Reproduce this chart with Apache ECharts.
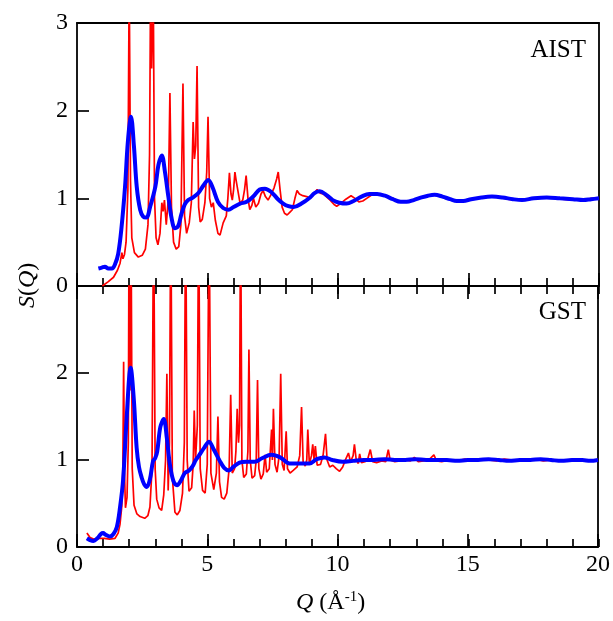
<!DOCTYPE html>
<html>
<head>
<meta charset="utf-8">
<script src="https://cdn.jsdelivr.net/npm/echarts@6/dist/echarts.min.js"></script>
<style>html,body{margin:0;padding:0;background:#fff;}#c{width:613px;height:621px;}</style>
</head>
<body>
<div id="c"></div>
<script>
// ---- data (Q, S(Q)) ----
const xTicks = [0, 5, 10, 15, 20];
const xMinorStep = 1;
const yTicks = [0, 1, 2, 3];
const panelLabels = ['AIST', 'GST'];

const aistCrystal = [[0.97,0.0],[1.2,0.05],[1.4,0.1],[1.55,0.18],[1.65,0.26],[1.72,0.38],[1.76,0.31],[1.82,0.36],[1.88,0.5],[1.95,1.1],[2.0,3.5],[2.05,1.2],[2.1,0.55],[2.2,0.38],[2.35,0.33],[2.5,0.35],[2.62,0.42],[2.72,0.7],[2.78,1.5],[2.82,3.5],[2.86,2.48],[2.92,3.5],[2.97,1.0],[3.03,0.55],[3.1,0.47],[3.18,0.6],[3.25,0.95],[3.3,0.85],[3.35,0.98],[3.42,0.7],[3.5,1.0],[3.56,2.2],[3.62,0.9],[3.7,0.5],[3.8,0.42],[3.9,0.45],[3.98,0.7],[4.06,2.31],[4.12,0.8],[4.2,0.6],[4.3,0.72],[4.38,0.95],[4.45,1.87],[4.5,1.45],[4.55,1.6],[4.6,2.51],[4.66,0.9],[4.72,0.73],[4.8,0.76],[4.9,0.95],[4.97,1.3],[5.02,1.93],[5.08,1.0],[5.15,0.9],[5.22,0.95],[5.3,0.75],[5.4,0.6],[5.48,0.58],[5.6,0.72],[5.72,0.8],[5.78,1.0],[5.84,1.29],[5.9,1.05],[5.95,0.98],[6.0,1.1],[6.05,1.3],[6.1,1.2],[6.15,1.22],[6.25,0.94],[6.35,0.98],[6.42,1.1],[6.48,1.26],[6.55,1.0],[6.62,0.87],[6.7,0.92],[6.76,1.0],[6.85,0.9],[6.95,0.94],[7.05,1.05],[7.13,1.09],[7.22,1.02],[7.32,0.98],[7.45,1.05],[7.55,1.12],[7.65,1.22],[7.71,1.3],[7.78,1.1],[7.86,0.9],[7.95,0.83],[8.05,0.81],[8.15,0.84],[8.25,0.87],[8.35,1.0],[8.43,1.09],[8.52,1.05],[8.65,1.03],[8.8,1.02],[8.93,1.0],[9.05,1.04],[9.2,1.1],[9.32,1.06],[9.43,1.05],[9.55,1.02],[9.7,0.98],[9.85,0.93],[9.95,0.91],[10.1,0.94],[10.3,0.99],[10.5,1.03],[10.65,1.0],[10.8,0.96],[10.95,0.97],[11.1,1.0],[11.3,1.04],[11.5,1.05],[11.7,1.04],[11.9,1.02],[12.1,1.0],[12.3,0.97],[12.5,0.96],[12.65,0.96],[12.85,0.97],[13.05,1.0],[13.3,1.02],[13.5,1.04],[13.7,1.04],[13.9,1.03],[14.1,1.0],[14.3,0.99],[14.5,0.97],[14.8,0.97],[15.1,0.99],[15.4,1.01],[15.7,1.02],[15.9,1.02],[16.2,1.01],[16.5,0.99],[16.8,0.98],[17.05,0.98],[17.4,0.99],[17.7,1.01],[18.0,1.01],[18.3,1.01],[18.6,0.99],[19.0,0.98],[19.4,0.98],[19.7,1.0],[20.0,1.0]];

const aistAmorph = [[0.82,0.2],[0.95,0.21],[1.07,0.22],[1.2,0.2],[1.34,0.2],[1.46,0.25],[1.58,0.37],[1.7,0.65],[1.84,1.13],[1.95,1.65],[2.07,1.93],[2.18,1.6],[2.29,1.13],[2.42,0.87],[2.54,0.79],[2.66,0.78],[2.8,0.9],[3.0,1.13],[3.12,1.38],[3.25,1.49],[3.37,1.3],[3.5,1.02],[3.62,0.78],[3.75,0.66],[3.87,0.68],[4.0,0.82],[4.13,0.93],[4.26,0.98],[4.45,1.01],[4.65,1.06],[4.85,1.15],[5.03,1.21],[5.2,1.12],[5.4,0.96],[5.6,0.89],[5.8,0.87],[6.0,0.9],[6.25,0.94],[6.5,0.96],[6.75,1.02],[7.0,1.1],[7.2,1.11],[7.45,1.07],[7.7,0.99],[7.9,0.94],[8.1,0.91],[8.3,0.9],[8.6,0.94],[8.93,1.01],[9.1,1.06],[9.3,1.08],[9.55,1.04],[9.8,0.98],[10.05,0.95],[10.33,0.94],[10.6,0.97],[10.9,1.02],[11.2,1.05],[11.5,1.05],[11.8,1.03],[12.1,0.99],[12.4,0.96],[12.63,0.96],[12.9,0.98],[13.2,1.01],[13.45,1.03],[13.7,1.04],[14.0,1.02],[14.3,0.99],[14.55,0.97],[14.8,0.97],[15.1,0.99],[15.5,1.01],[15.9,1.02],[16.3,1.01],[16.7,0.99],[17.05,0.98],[17.5,1.0],[18.0,1.01],[18.5,1.0],[19.0,0.99],[19.4,0.98],[19.7,0.99],[20.0,1.0]];

const gstCrystal = [[0.38,0.16],[0.5,0.11],[0.66,0.09],[0.85,0.1],[1.05,0.1],[1.25,0.09],[1.46,0.1],[1.58,0.16],[1.65,0.26],[1.72,0.47],[1.76,0.9],[1.79,2.13],[1.82,0.9],[1.86,0.45],[1.92,0.57],[1.97,1.2],[2.0,4],[2.035,1.8],[2.07,4],[2.12,0.9],[2.19,0.48],[2.3,0.38],[2.42,0.35],[2.6,0.33],[2.72,0.36],[2.8,0.46],[2.88,0.9],[2.94,4],[3.0,0.9],[3.06,0.55],[3.15,0.45],[3.25,0.42],[3.33,0.6],[3.4,1.0],[3.45,1.99],[3.5,0.65],[3.55,1.2],[3.6,4],[3.66,0.8],[3.76,0.4],[3.85,0.37],[3.95,0.42],[4.05,0.62],[4.12,1.2],[4.17,4],[4.23,1.0],[4.3,0.64],[4.4,0.68],[4.46,0.95],[4.5,1.57],[4.55,1.0],[4.62,1.4],[4.67,4],[4.73,0.9],[4.82,0.65],[4.92,0.62],[5.0,0.95],[5.07,4],[5.14,0.85],[5.25,0.66],[5.35,0.85],[5.41,1.5],[5.47,0.75],[5.55,0.57],[5.65,0.55],[5.75,0.62],[5.84,0.9],[5.9,1.75],[5.96,0.85],[6.05,0.9],[6.1,1.1],[6.15,1.59],[6.2,1.2],[6.24,1.4],[6.28,4],[6.33,1.0],[6.4,0.8],[6.5,0.84],[6.56,1.1],[6.6,2.27],[6.65,1.0],[6.72,0.79],[6.82,0.82],[6.88,1.0],[6.93,1.92],[6.98,0.9],[7.06,0.78],[7.15,0.84],[7.22,1.06],[7.28,0.86],[7.38,0.9],[7.47,1.35],[7.5,1.0],[7.54,1.59],[7.6,0.95],[7.68,0.86],[7.76,1.05],[7.82,1.99],[7.88,0.95],[7.95,0.88],[8.03,1.33],[8.08,0.9],[8.18,0.85],[8.3,0.88],[8.45,0.92],[8.55,1.05],[8.62,1.61],[8.68,0.98],[8.76,0.93],[8.82,1.0],[8.86,1.35],[8.92,0.95],[9.0,1.05],[9.05,1.18],[9.1,1.0],[9.15,1.16],[9.22,0.94],[9.35,0.95],[9.45,1.06],[9.54,1.3],[9.6,1.0],[9.7,0.92],[9.82,0.94],[9.95,0.9],[10.08,0.87],[10.2,0.92],[10.3,1.0],[10.42,1.08],[10.5,0.98],[10.6,1.05],[10.65,1.18],[10.72,1.0],[10.8,0.96],[10.85,1.07],[10.92,0.97],[11.05,0.98],[11.15,1.0],[11.26,1.12],[11.35,0.98],[11.5,0.97],[11.7,0.99],[11.85,0.98],[11.95,1.12],[12.02,1.0],[12.2,0.98],[12.4,0.99],[12.6,1.0],[12.8,0.99],[12.95,1.03],[13.1,0.98],[13.3,0.99],[13.5,1.0],[13.7,1.06],[13.8,0.99],[14.0,0.98],[14.3,1.0],[14.6,0.99],[14.9,1.01],[15.2,0.99],[15.5,1.0],[15.8,1.0],[16.1,0.99],[16.4,1.01],[16.7,1.0],[17.0,0.99],[17.3,1.0],[17.6,1.01],[17.9,0.99],[18.2,1.0],[18.5,0.99],[18.8,1.0],[19.1,1.01],[19.4,0.99],[19.7,1.0],[20.0,1.0]];

const gstAmorph = [[0.38,0.1],[0.5,0.08],[0.63,0.07],[0.78,0.1],[0.92,0.15],[1.0,0.16],[1.1,0.14],[1.26,0.12],[1.4,0.15],[1.53,0.23],[1.65,0.45],[1.77,0.77],[1.9,1.45],[2.06,2.06],[2.18,1.7],[2.29,1.14],[2.38,0.92],[2.48,0.8],[2.58,0.72],[2.68,0.69],[2.8,0.78],[2.92,0.99],[3.0,1.02],[3.08,1.1],[3.2,1.38],[3.33,1.47],[3.45,1.25],[3.56,0.96],[3.7,0.76],[3.84,0.71],[3.98,0.76],[4.14,0.85],[4.3,0.88],[4.44,0.93],[4.56,1.0],[4.68,1.05],[4.88,1.14],[5.07,1.21],[5.25,1.12],[5.48,0.99],[5.65,0.91],[5.83,0.88],[6.0,0.92],[6.24,0.97],[6.5,0.98],[6.82,0.98],[7.1,1.02],[7.46,1.06],[7.8,1.03],[8.16,0.96],[8.5,0.96],[8.93,0.96],[9.2,1.01],[9.5,1.03],[9.8,1.0],[10.2,0.98],[10.6,0.99],[11.0,1.0],[11.4,1.0],[11.8,1.01],[12.2,1.0],[12.6,1.0],[13.0,1.01],[13.4,1.0],[13.8,1.0],[14.2,1.0],[14.6,0.99],[15.0,1.0],[15.4,1.0],[15.8,1.01],[16.2,1.0],[16.6,0.99],[17.0,1.0],[17.4,1.0],[17.8,1.01],[18.2,1.0],[18.6,0.99],[19.0,1.0],[19.4,1.0],[19.7,0.99],[20.0,1.0]];

// ---- chart ----
const FONT = '"Liberation Serif","Times New Roman",serif';
const chart = echarts.init(document.getElementById('c'), null, {renderer: 'canvas'});
const XMIN = xTicks[0], XMAX = xTicks[xTicks.length - 1];

function xAx(grid, pos, opts) {
  return {
    type: 'value', gridIndex: grid, position: pos, min: XMIN, max: XMAX,
    interval: opts.step,
    axisLine: {show: opts.line, onZero: false, lineStyle: {color: '#000', width: 1.8}},
    axisTick: {show: opts.tickLen > 0, inside: true, length: opts.tickLen, lineStyle: {color: '#000', width: 1.7}},
    axisLabel: {show: !!opts.labels, color: '#000', fontFamily: FONT, fontSize: 24, margin: 6},
    splitLine: {show: false}
  };
}
function yAx(grid, pos, opts) {
  return {
    type: 'value', gridIndex: grid, position: pos, min: yTicks[0], max: yTicks[yTicks.length - 1],
    interval: yTicks[1] - yTicks[0], show: opts.show !== false,
    axisLine: {show: !!opts.line, onZero: false, lineStyle: {color: '#000', width: 1.8}},
    axisTick: {show: !!opts.ticks, inside: true, length: 12, lineStyle: {color: '#000', width: 1.7}},
    axisLabel: {show: !!opts.labels, color: '#000', fontFamily: FONT, fontSize: 24, margin: 9,
      formatter: v => (opts.hideTop && v === yTicks[yTicks.length - 1]) ? '' : String(v)},
    splitLine: {show: false}
  };
}
const major = xTicks[1] - xTicks[0];

chart.setOption({
  animation: false,
  backgroundColor: '#fff',
  grid: [
    {left: 77, right: 14, top: 23, height: 263},
    {left: 77, right: 14, top: 286, height: 261},
    {left: 77, right: 14, top: 23, height: 263},
    {left: 77, right: 14, top: 286, height: 261}
  ],
  xAxis: [
    xAx(0, 'bottom', {step: major, line: true, tickLen: 13}),
    xAx(0, 'top', {step: major, line: true, tickLen: 0}),
    xAx(1, 'bottom', {step: major, line: true, tickLen: 13, labels: true}),
    xAx(1, 'top', {step: major, line: true, tickLen: 13}),
    // minor ticks (overlay grids)
    xAx(2, 'bottom', {step: xMinorStep, line: false, tickLen: 8}),
    xAx(3, 'bottom', {step: xMinorStep, line: false, tickLen: 8}),
    xAx(3, 'top', {step: xMinorStep, line: false, tickLen: 8})
  ],
  yAxis: [
    yAx(0, 'left', {line: true, ticks: true, labels: true}),
    yAx(0, 'right', {line: true}),
    yAx(1, 'left', {line: true, ticks: true, labels: true, hideTop: true}),
    yAx(1, 'right', {line: true}),
    yAx(2, 'left', {show: false}),
    yAx(3, 'left', {show: false})
  ],
  series: [
    {type: 'line', xAxisIndex: 0, yAxisIndex: 0, data: aistCrystal, showSymbol: false, clip: true, z: 1,
      lineStyle: {color: '#ff0000', width: 1.7}},
    {type: 'line', xAxisIndex: 0, yAxisIndex: 0, data: aistAmorph, showSymbol: false, clip: true, smooth: 0.35, z: 1,
      lineStyle: {color: '#0000ff', width: 4}},
    {type: 'line', xAxisIndex: 2, yAxisIndex: 2, data: gstCrystal, showSymbol: false, clip: true, z: 1,
      lineStyle: {color: '#ff0000', width: 1.7}},
    {type: 'line', xAxisIndex: 2, yAxisIndex: 2, data: gstAmorph, showSymbol: false, clip: true, smooth: 0.35, z: 1,
      lineStyle: {color: '#0000ff', width: 4}}
  ],
  graphic: [
    {type: 'text', right: 27, top: 38, style: {text: panelLabels[0], font: '25px ' + FONT, fill: '#000'}},
    {type: 'text', right: 27, top: 300, style: {text: panelLabels[1], font: '25px ' + FONT, fill: '#000'}},
    {type: 'text', left: 296, top: 590, style: {
      text: '{i|Q} (Å{s|-1})', fill: '#000', font: '24px ' + FONT,
      rich: {i: {fontStyle: 'italic', fontFamily: FONT, fontSize: 24},
             s: {fontFamily: FONT, fontSize: 15, padding: [0, 0, 10, 0]}}}},
    {type: 'text', x: 16, y: 308, rotation: Math.PI / 2, style: {
      text: '{i|S}({i|Q})', fill: '#000', font: '24px ' + FONT,
      rich: {i: {fontStyle: 'italic', fontFamily: FONT, fontSize: 24}}}}
  ]
});
</script>
</body>
</html>
